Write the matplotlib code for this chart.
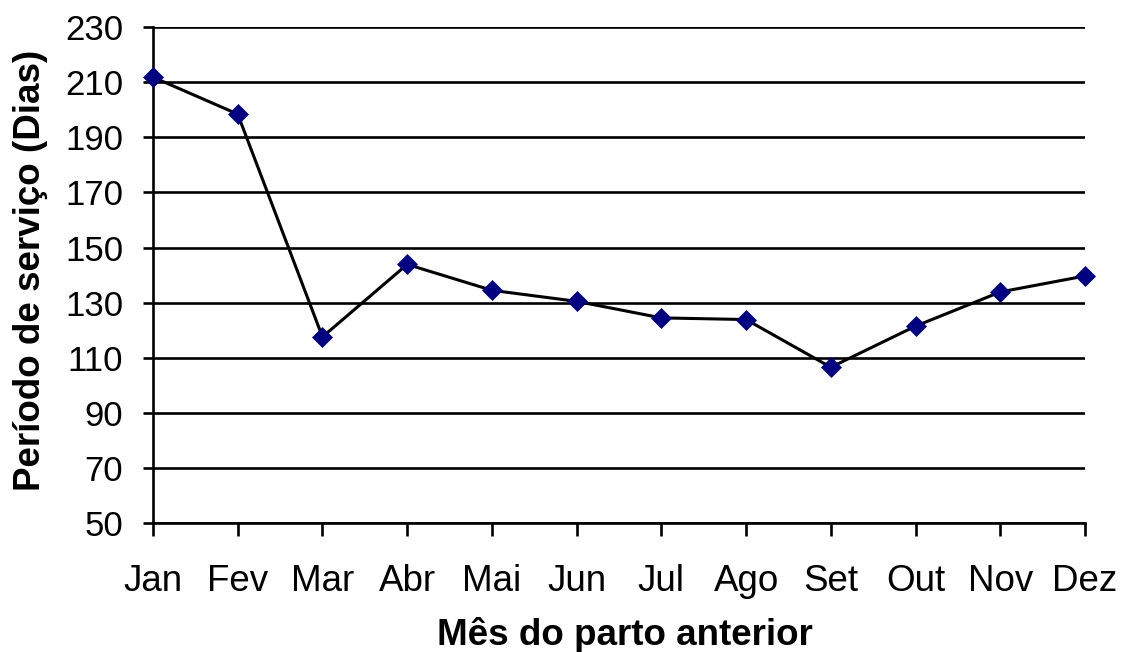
import matplotlib
matplotlib.use("Agg")
import matplotlib.pyplot as plt

months = ["Jan", "Fev", "Mar", "Abr", "Mai", "Jun", "Jul", "Ago", "Set", "Out", "Nov", "Dez"]
service_days = [211.8, 198.4, 117.6, 143.9, 134.5, 130.5, 124.5, 123.9, 106.6, 121.5, 133.9, 139.7]
y_ticks = [50, 70, 90, 110, 130, 150, 170, 190, 210, 230]

plt.rcParams["font.family"] = ["Liberation Sans", "DejaVu Sans"]

W, H = 1123, 652
fig = plt.figure(figsize=(W / 100, H / 100), dpi=100)
left, right, top, bottom = 153, 1085, 27, 523.3
ax = fig.add_axes([left / W, 1 - bottom / H, (right - left) / W, (bottom - top) / H])

x = list(range(len(months)))
ax.plot(x, service_days, color="black", lw=2.2, marker="D", ms=10,
        mfc="#000080", mec="#000080", mew=0.5, clip_on=False, zorder=3)

ax.set_xlim(0, len(months) - 1)
ax.set_ylim(y_ticks[0], y_ticks[-1])
ax.set_yticks(y_ticks)
ax.set_xticks(x)
ax.set_xticklabels(months)

for yv in y_ticks:
    ax.axhline(yv, color="black", lw=1.9, zorder=1)

for s in ["top", "right"]:
    ax.spines[s].set_visible(False)
ax.spines["left"].set_linewidth(1.9)
ax.spines["bottom"].set_linewidth(1.9)

ax.tick_params(axis="y", direction="out", length=7.5, width=1.9, pad=14, labelsize=25)
ax.tick_params(axis="x", direction="out", length=9.5, width=1.9, pad=20, labelsize=26.5)

# Axis titles placed in figure pixels
fig.text(40 / W, 1 - 270 / H, "Período de serviço (Dias)", fontsize=26.5, fontweight="bold",
         rotation=90, rotation_mode="anchor", ha="center", va="baseline")
fig.text(625 / W, 1 - 645 / H, "Mês do parto anterior", fontsize=26.5, fontweight="bold",
         ha="center", va="baseline")

fig.savefig("out.png", dpi=100, facecolor="white")
